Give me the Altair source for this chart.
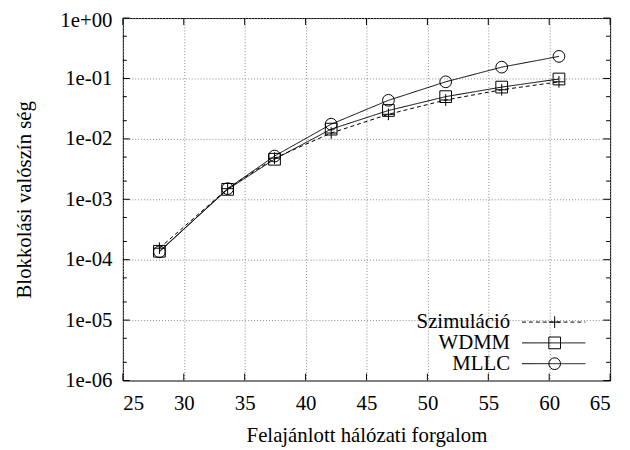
import altair as alt
import pandas as pd

# ---- data ----
x_vals = [28.0, 33.6, 37.45, 42.1, 46.8, 51.5, 56.1, 60.8]
sim = [1.55e-4, 1.50e-3, 4.8e-3, 1.25e-2, 2.55e-2, 4.4e-2, 6.5e-2, 8.8e-2]
wdmm = [1.38e-4, 1.46e-3, 4.6e-3, 1.45e-2, 2.95e-2, 5.0e-2, 7.2e-2, 9.8e-2]
mllc = [1.35e-4, 1.50e-3, 5.2e-3, 1.75e-2, 4.35e-2, 8.8e-2, 0.154, 0.232]
series_names = ["Szimuláció", "WDMM", "MLLC"]

x_ticks = [25, 30, 35, 40, 45, 50, 55, 60, 65]
y_major = [1e-6, 1e-5, 1e-4, 1e-3, 1e-2, 1e-1, 1.0]
y_minor = [2e-6, 5e-6, 2e-5, 5e-5, 2e-4, 5e-4, 2e-3, 5e-3, 2e-2, 5e-2, 2e-1, 5e-1]

rows = []
for name, vals in zip(series_names, [sim, wdmm, mllc]):
    for xv, yv in zip(x_vals, vals):
        rows.append({"x": xv, "p": yv, "series": name})
df = pd.DataFrame(rows)

W, H = 492, 366
FONT = "Liberation Serif"
FS = 21

x_scale = alt.Scale(domain=[25, 65], nice=False, zero=False)
y_scale = alt.Scale(type="log", domain=[1e-6, 1], nice=False)

x_axis = alt.Axis(values=x_ticks, title="Felajánlott hálózati forgalom", grid=True,
                  ticks=False, tickSize=0, domain=False, labelPadding=12, titlePadding=12,
                  format="d")
y_axis = alt.Axis(values=y_major, title="Blokkolási valószín ség", grid=True,
                  ticks=False, tickSize=0, domain=False, labelPadding=11, titlePadding=26,
                  labelOffset={"condition": {"test": "datum.value >= 0.5", "value": 3}, "value": 0},
                  labelExpr="'1e' + (round(log(datum.value)/LN10) < 0 ? '-' : '+') + '0' + abs(round(log(datum.value)/LN10))")

X = alt.X("x:Q", scale=x_scale, axis=x_axis)
Y = alt.Y("p:Q", scale=y_scale, axis=y_axis)

dash_scale = alt.Scale(domain=series_names, range=[[4, 3], [1, 0], [1, 0]])
shape_scale = alt.Scale(domain=series_names,
                        range=["M-1,0L1,0M0,-1L0,1", "square", "circle"])

lines = alt.Chart(df).mark_line(color="black", strokeWidth=1).encode(
    x=X, y=Y, detail="series:N",
    strokeDash=alt.StrokeDash("series:N", scale=dash_scale, legend=None),
)
points = alt.Chart(df).mark_point(filled=False, color="black", strokeWidth=1, size=140, opacity=1).encode(
    x=X, y=Y,
    shape=alt.Shape("series:N", scale=shape_scale, legend=None),
)

# inward ticks on all four sides
ymaj_df = pd.DataFrame({"p": y_major})
ymin_df = pd.DataFrame({"p": y_minor})
xt_df = pd.DataFrame({"x": x_ticks})
tick_layers = [
    alt.Chart(ymaj_df).mark_rule(color="black").encode(y=Y, x=alt.value(0), x2=alt.value(7)),
    alt.Chart(ymaj_df).mark_rule(color="black").encode(y=Y, x=alt.value(W - 7), x2=alt.value(W)),
    alt.Chart(ymin_df).mark_rule(color="black").encode(y=Y, x=alt.value(0), x2=alt.value(4)),
    alt.Chart(ymin_df).mark_rule(color="black").encode(y=Y, x=alt.value(W - 4), x2=alt.value(W)),
    alt.Chart(xt_df).mark_rule(color="black").encode(x=X, y=alt.value(H - 7), y2=alt.value(H)),
    alt.Chart(xt_df).mark_rule(color="black").encode(x=X, y=alt.value(0), y2=alt.value(7)),
]

# manual legend (labels left of samples, like gnuplot)
legend_layers = []
leg_y = [307, 328, 349]
leg_dash = [[4, 3], [1, 0], [1, 0]]
leg_shape = ["M-1,0L1,0M0,-1L0,1", "square", "circle"]
for name, yy, dsh, shp in zip(series_names, leg_y, leg_dash, leg_shape):
    ldf = pd.DataFrame({"series": [name]})
    legend_layers.append(
        alt.Chart(ldf).mark_text(align="right", baseline="middle", font=FONT, fontSize=FS, color="black")
        .encode(text="series:N", x=alt.value(391), y=alt.value(yy)))
    legend_layers.append(
        alt.Chart(ldf).mark_rule(color="black", strokeWidth=1, strokeDash=dsh)
        .encode(x=alt.value(403), x2=alt.value(467), y=alt.value(yy)))
    legend_layers.append(
        alt.Chart(ldf).mark_point(filled=False, color="black", strokeWidth=1, size=140, opacity=1, shape=shp)
        .encode(x=alt.value(436), y=alt.value(yy)))

chart = alt.layer(lines, points, *tick_layers, *legend_layers).properties(
    width=W, height=H,
    autosize=alt.AutoSizeParams(type="none"),
    padding={"left": 116, "top": 8, "right": 12, "bottom": 68},
).configure(
    background="white"
).configure_view(
    stroke="black", strokeWidth=1
).configure_axis(
    labelFont=FONT, labelFontSize=FS, labelColor="black",
    titleFont=FONT, titleFontSize=FS, titleColor="black", titleFontWeight="normal",
    gridColor="#888888", gridDash=[1, 2], gridWidth=1, gridOpacity=1,
)

chart.save("out.html", embed_options={"renderer": "svg", "actions": False})
